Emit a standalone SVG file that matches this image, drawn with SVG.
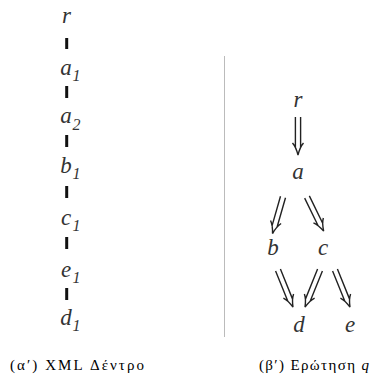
<svg xmlns="http://www.w3.org/2000/svg" xmlns:xlink="http://www.w3.org/1999/xlink" width="371" height="376" viewBox="0 0 371 376">
<style>
.lbl{font-family:"Liberation Serif",serif;font-style:italic;font-size:23px;fill:#333;text-anchor:middle}
.sub{font-family:"Liberation Serif",serif;font-style:italic;font-size:16px;fill:#333}
.bar{stroke:#111;stroke-width:3}
.cap{font-family:"Liberation Serif","DejaVu Serif",serif;font-size:15px;fill:#000}
.da{fill:none;stroke:#222;stroke-width:1.4;stroke-linejoin:miter}
</style>
<defs>
<path id="da38" class="da" d="M-2.6,0 V31 M2.6,0 V31 M-5.5,26 Q-2,30 0,38 Q2,30 5.5,26"/>
<path id="da40" class="da" d="M-2.6,0 V33 M2.6,0 V33 M-5.5,28 Q-2,32 0,40 Q2,32 5.5,28"/>
</defs>
<g id="connectors">
<line class="bar" x1="66.7" y1="38" x2="66.7" y2="49"/>
<line class="bar" x1="66.7" y1="86" x2="66.7" y2="98"/>
<line class="bar" x1="66.7" y1="135" x2="66.7" y2="147"/>
<line class="bar" x1="66.7" y1="186" x2="66.7" y2="198"/>
<line class="bar" x1="66.7" y1="237" x2="66.7" y2="249"/>
<line class="bar" x1="66.7" y1="288" x2="66.7" y2="300"/>
<use xlink:href="#da38" transform="translate(298,117)"/>
<use xlink:href="#da38" transform="translate(283,197) rotate(16)"/>
<use xlink:href="#da38" transform="translate(307,197) rotate(-26)"/>
<use xlink:href="#da40" transform="translate(278,270) rotate(-22)"/>
<use xlink:href="#da40" transform="translate(320,270) rotate(22)"/>
<use xlink:href="#da40" transform="translate(335,270) rotate(-22)"/>
</g>
<g id="xml-tree">
<g id="n-r"><text class="lbl" x="66.5" y="23">r</text></g>
<g id="n-a1"><text class="lbl" x="66" y="75">a</text><text class="sub" x="72.5" y="81">1</text></g>
<g id="n-a2"><text class="lbl" x="66" y="123">a</text><text class="sub" x="72.5" y="130">2</text></g>
<g id="n-b1"><text class="lbl" x="66" y="173">b</text><text class="sub" x="72.5" y="179">1</text></g>
<g id="n-c1"><text class="lbl" x="66" y="225">c</text><text class="sub" x="72.5" y="231">1</text></g>
<g id="n-e1"><text class="lbl" x="66" y="277">e</text><text class="sub" x="72.5" y="283">1</text></g>
<g id="n-d1"><text class="lbl" x="66" y="325">d</text><text class="sub" x="72.5" y="331">1</text></g>
</g>
<line x1="224.5" y1="56" x2="224.5" y2="337" stroke="#bbb" stroke-width="1"/>
<g id="query">
<g id="q-r"><text class="lbl" x="298" y="107">r</text></g>
<g id="q-a"><text class="lbl" x="298" y="179">a</text></g>
<g id="q-b"><text class="lbl" x="273" y="255">b</text></g>
<g id="q-c"><text class="lbl" x="323" y="255">c</text></g>
<g id="q-d"><text class="lbl" x="299" y="332">d</text></g>
<g id="q-e"><text class="lbl" x="350" y="332">e</text></g>
</g>
<text class="cap" x="10" y="370" textLength="134" lengthAdjust="spacing">(α′) XML Δέντρο</text>
<text class="cap" x="259" y="370" textLength="110" lengthAdjust="spacing">(β′) Ερώτηση <tspan font-style="italic">q</tspan></text>
</svg>
